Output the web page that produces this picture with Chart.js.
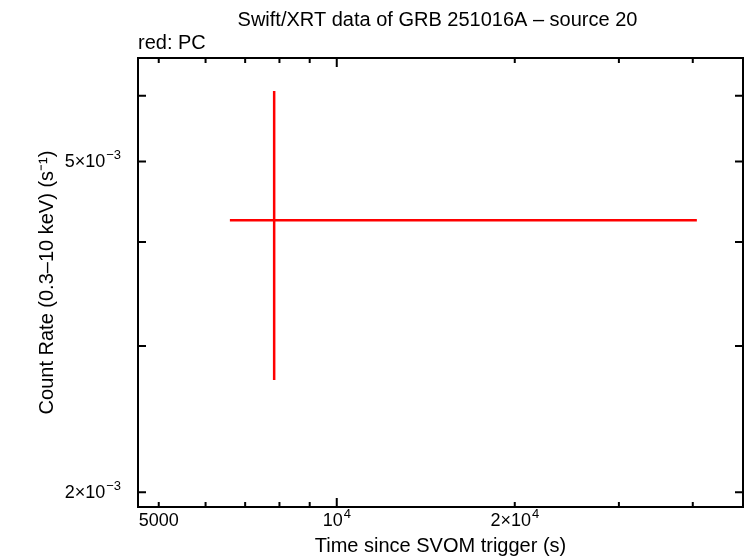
<!DOCTYPE html>
<html>
<head>
<meta charset="utf-8">
<script src="https://cdn.jsdelivr.net/npm/chart.js@4"></script>
<style>
  html, body { margin: 0; padding: 0; background: #fff; }
  #wrap { width: 746px; height: 558px; }
</style>
</head>
<body>
<div id="wrap"><canvas id="lcChart" width="746" height="558"></canvas></div>
<script>
// Light curve bins (PC mode)
const timeMid = [7837];
const timeLo = [6596];
const timeHi = [40640];
const rate = [4.25e-3];
const rateLo = [2.73e-3];
const rateHi = [6.08e-3];

// Axis ticks ('^' marks an exponent)
const xTickValues = [5000, 6000, 7000, 8000, 9000, 10000, 20000, 30000, 40000];
const xTickLabels = ['5000', '', '', '', '', '10^4', '2×10^4', '', ''];
const yTickValues = [0.002, 0.003, 0.004, 0.005, 0.006];
const yTickLabels = ['2×10^−3', '', '', '5×10^−3', ''];

const FONT = 'Liberation Sans, Arial, Helvetica, sans-serif';

// Error bars as line segments, separated by nulls
const xBars = timeMid.flatMap((t, i) => [{x: timeLo[i], y: rate[i]}, {x: timeHi[i], y: rate[i]}, {x: null, y: null}]);
const yBars = timeMid.flatMap((t, i) => [{x: t, y: rateLo[i]}, {x: t, y: rateHi[i]}, {x: null, y: null}]);

// draws "base^exp" with a raised, smaller exponent
function drawSupLabel(ctx, label, x, y, align) {
    const [base, exp] = label.split('^');
    ctx.font = '18px ' + FONT;
    const wb = ctx.measureText(base).width;
    ctx.font = '13px ' + FONT;
    const we = exp ? ctx.measureText(exp).width + 1 : 0;
    const w = wb + we;
    let x0 = align === 'right' ? x - w : x - w / 2;
    ctx.textAlign = 'left';
    ctx.textBaseline = 'middle';
    ctx.font = '18px ' + FONT;
    ctx.fillText(base, x0, y);
    if (exp) {
        ctx.font = '13px ' + FONT;
        ctx.fillText(exp, x0 + wb + 1, y - 7);
    }
}

// Frame, inward ticks, tick labels, title text (gnuplot look)
const framePlugin = {
    id: 'frame',
    afterDatasetsDraw(chart) {
        const ctx = chart.ctx;
        const a = chart.chartArea;
        const xs = chart.scales.x, ys = chart.scales.y;
        ctx.save();
        ctx.strokeStyle = '#000';
        ctx.lineWidth = 2;
        ctx.beginPath();
        xTickValues.forEach(v => {
            const px = xs.getPixelForValue(v);
            const len = Math.abs(Math.log10(v) % 1) < 1e-9 ? 9 : 5;
            ctx.moveTo(px, a.bottom); ctx.lineTo(px, a.bottom - len);
            ctx.moveTo(px, a.top); ctx.lineTo(px, a.top + len);
        });
        yTickValues.forEach(v => {
            const py = ys.getPixelForValue(v);
            ctx.moveTo(a.left, py); ctx.lineTo(a.left + 8, py);
            ctx.moveTo(a.right, py); ctx.lineTo(a.right - 8, py);
        });
        ctx.stroke();
        ctx.strokeRect(a.left, a.top, a.right - a.left, a.bottom - a.top);

        ctx.fillStyle = '#000';
        xTickValues.forEach((v, i) => {
            if (xTickLabels[i]) drawSupLabel(ctx, xTickLabels[i], xs.getPixelForValue(v), a.bottom + 14, 'center');
        });
        yTickValues.forEach((v, i) => {
            if (yTickLabels[i]) drawSupLabel(ctx, yTickLabels[i], a.left - 17, ys.getPixelForValue(v) + 1, 'right');
        });

        ctx.font = '20px ' + FONT;
        ctx.textBaseline = 'middle';
        ctx.textAlign = 'center';
        ctx.fillText('Swift/XRT data of GRB 251016A – source 20', (a.left + a.right) / 2 - 3, 20);
        ctx.textAlign = 'left';
        ctx.fillText('red: PC', a.left, 43);
        ctx.restore();
    }
};

new Chart(document.getElementById('lcChart').getContext('2d'), {
    type: 'line',
    data: {
        datasets: [
            { data: xBars, borderColor: '#ff0000', borderWidth: 2.5, pointRadius: 0, spanGaps: false, tension: 0 },
            { data: yBars, borderColor: '#ff0000', borderWidth: 2.5, pointRadius: 0, spanGaps: false, tension: 0 }
        ]
    },
    options: {
        responsive: false,
        animation: false,
        layout: { padding: { top: 58, right: 3, left: 0, bottom: 0 } },
        plugins: {
            legend: { display: false },
            tooltip: { enabled: false }
        },
        scales: {
            x: {
                type: 'logarithmic',
                min: 4612,
                max: 48640,
                afterBuildTicks: s => { s.ticks = xTickValues.map(v => ({ value: v })); },
                afterFit: s => { s.height = 51; },
                grid: { display: false },
                border: { display: false },
                ticks: { display: false },
                title: {
                    display: true,
                    text: 'Time since SVOM trigger (s)',
                    color: '#000',
                    font: { family: FONT, size: 20 },
                    padding: { top: 0, bottom: 0 }
                }
            },
            y: {
                type: 'logarithmic',
                min: 1.92e-3,
                max: 6.66e-3,
                afterBuildTicks: s => { s.ticks = yTickValues.map(v => ({ value: v })); },
                afterFit: s => { s.width = 138; },
                grid: { display: false },
                border: { display: false },
                ticks: { display: false },
                title: {
                    display: true,
                    text: 'Count Rate (0.3–10 keV) (s⁻¹)',
                    color: '#000',
                    font: { family: FONT, size: 20 },
                    padding: { top: 35, bottom: 0 }
                }
            }
        }
    },
    plugins: [framePlugin]
});
</script>
</body>
</html>
